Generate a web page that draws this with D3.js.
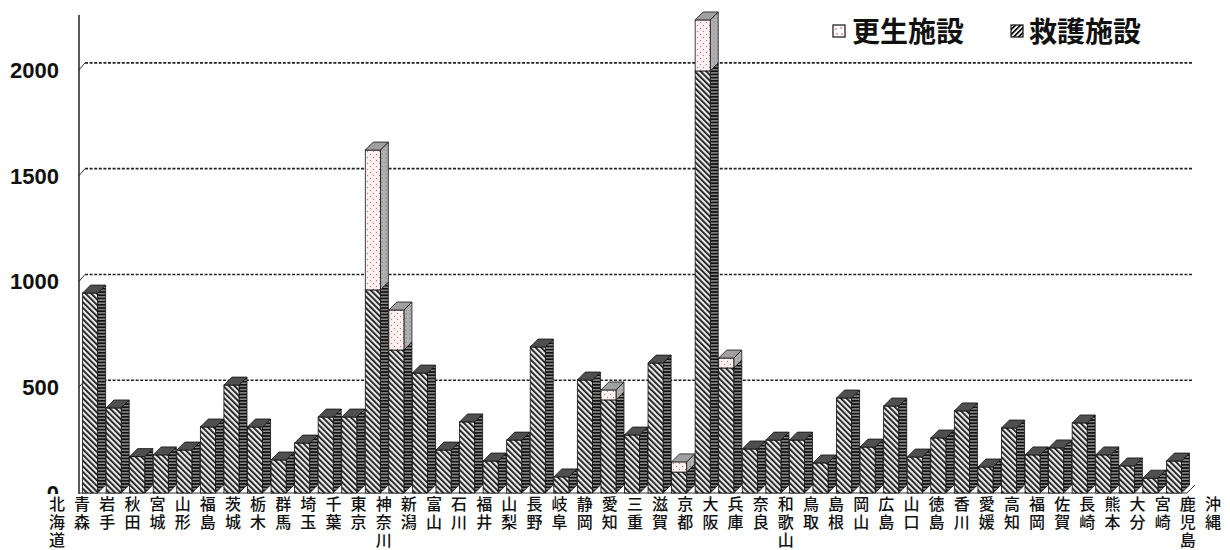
<!DOCTYPE html>
<html><head><meta charset="utf-8">
<script src="https://cdn.jsdelivr.net/npm/d3@7/dist/d3.min.js"></script>
<style>body{margin:0;background:#fff;}svg{display:block;}</style>
</head><body>
<svg id="chart" width="1230" height="550"></svg>
<script>
const prefectures = ["北海道","青森","岩手","秋田","宮城","山形","福島","茨城","栃木","群馬","埼玉","千葉","東京","神奈川","新潟","富山","石川","福井","山梨","長野","岐阜","静岡","愛知","三重","滋賀","京都","大阪","兵庫","奈良","和歌山","鳥取","島根","岡山","広島","山口","徳島","香川","愛媛","高知","福岡","佐賀","長崎","熊本","大分","宮崎","鹿児島","沖縄"];
// 救護施設 (bottom)
const kyugo = [945,402,172,180,203,312,510,312,156,236,359,359,960,676,567,203,336,151,250,690,76,534,440,274,614,99,1995,591,208,250,250,142,449,217,411,170,260,388,123,307,180,213,331,180,128,70,151];
// 更生施設 (top)
const kosei = [0,0,0,0,0,0,0,0,0,0,0,0,661,189,0,0,0,0,0,0,0,0,47,0,0,48,241,47,0,0,0,0,0,0,0,0,0,0,0,0,0,0,0,0,0,0,0];
const yTicks = [0,500,1000,1500,2000];
const seriesNames = ["更生施設","救護施設"];

const svg = d3.select("#chart");
const defs = svg.append("defs");
const pFront = defs.append("pattern").attr("id","kFront").attr("patternUnits","userSpaceOnUse")
  .attr("width",4).attr("height",4).attr("patternTransform","rotate(-45)");
pFront.append("rect").attr("width",4).attr("height",4).attr("fill","#eaeaea");
pFront.append("rect").attr("width",1.8).attr("height",4).attr("fill","#1a1a1a");
const pSide = defs.append("pattern").attr("id","kSide").attr("patternUnits","userSpaceOnUse")
  .attr("width",4).attr("height",3.2);
pSide.append("rect").attr("width",4).attr("height",3.2).attr("fill","#8a8a8a");
pSide.append("rect").attr("width",4).attr("height",1.7).attr("fill","#111");
const pLeg = defs.append("pattern").attr("id","kLeg").attr("patternUnits","userSpaceOnUse")
  .attr("width",3.5).attr("height",3.5).attr("patternTransform","rotate(45)");
pLeg.append("rect").attr("width",3.5).attr("height",3.5).attr("fill","#fff");
pLeg.append("rect").attr("width",1.8).attr("height",3.5).attr("fill","#111");
const dFront = defs.append("pattern").attr("id","dFront").attr("patternUnits","userSpaceOnUse")
  .attr("width",6).attr("height",6);
dFront.append("rect").attr("width",6).attr("height",6).attr("fill","#fff2f2");
dFront.append("circle").attr("cx",1.5).attr("cy",1.5).attr("r",0.7).attr("fill","#c77");
dFront.append("circle").attr("cx",4.5).attr("cy",4.5).attr("r",0.7).attr("fill","#c77");
const dSide = defs.append("pattern").attr("id","dSide").attr("patternUnits","userSpaceOnUse")
  .attr("width",4).attr("height",4);
dSide.append("rect").attr("width",4).attr("height",4).attr("fill","#b0b0b0");
dSide.append("circle").attr("cx",2).attr("cy",2).attr("r",0.6).attr("fill","#666");

const x = d3.scaleBand().domain(prefectures).range([79,1185]).paddingInner(0.36).paddingOuter(0.15);
const xl = d3.scalePoint().domain(prefectures).range([57,1213]);
const y = d3.scaleLinear().domain([0,2250]).range([493,17]);
const dx = 8, dy = -8;

const grid = svg.append("g");
yTicks.filter(t=>t>0).forEach(t=>{
  const yy = y(t);
  grid.append("line").attr("x1",79).attr("y1",yy).attr("x2",79+6).attr("y2",yy-7)
    .attr("stroke","#333").attr("stroke-width",1);
  grid.append("line").attr("x1",85).attr("y1",yy-7).attr("x2",1193).attr("y2",yy-7)
    .attr("stroke","#222").attr("stroke-width",1.6).attr("stroke-dasharray","3,1.6");
});

svg.append("line").attr("x1",79).attr("y1",15).attr("x2",79).attr("y2",494).attr("stroke","#222").attr("stroke-width",1.5);
svg.append("line").attr("x1",79).attr("y1",493).attr("x2",1187).attr("y2",493).attr("stroke","#333").attr("stroke-width",1);
svg.append("line").attr("x1",1187).attr("y1",493).attr("x2",1195).attr("y2",485).attr("stroke","#333").attr("stroke-width",1);

const bars = svg.append("g");
prefectures.forEach((p,i)=>{
  const x0 = x(p), w = x.bandwidth();
  const segs = [
    {lo:0, hi:kyugo[i], front:"url(#kFront)", side:"url(#kSide)", top:"#4f4f4f"},
    {lo:kyugo[i], hi:kyugo[i]+kosei[i], front:"url(#dFront)", side:"url(#dSide)", top:"#a0a0a0"}
  ].filter(s=>s.hi>s.lo);
  const g = bars.append("g");
  segs.forEach((s,j)=>{
    const yt = y(s.hi), yb = y(s.lo);
    g.append("polygon").attr("points",[[x0+w,yt],[x0+w+dx,yt+dy],[x0+w+dx,yb+dy],[x0+w,yb]].join(" "))
      .attr("fill",s.side).attr("stroke","#111").attr("stroke-width",0.8);
    g.append("rect").attr("x",x0).attr("y",yt).attr("width",w).attr("height",yb-yt)
      .attr("fill",s.front).attr("stroke","#111").attr("stroke-width",0.8);
    if(j===segs.length-1){
      g.append("polygon").attr("points",[[x0,yt],[x0+dx,yt+dy],[x0+w+dx,yt+dy],[x0+w,yt]].join(" "))
        .attr("fill",s.top).attr("stroke","#111").attr("stroke-width",0.8);
    }
  });
});

svg.append("g").selectAll("text").data(yTicks).join("text")
  .attr("x",59).attr("y",d=>y(d)).attr("dy","0.36em").attr("text-anchor","end")
  .attr("font-family","Liberation Sans, Arial, sans-serif").attr("font-weight","bold")
  .attr("font-size",22).attr("fill","#111").text(d=>d);

svg.append("rect").attr("x",0).attr("y",494).attr("width",1230).attr("height",56).attr("fill","#fff");

const xg = svg.append("g").attr("font-family","Noto Sans CJK JP, sans-serif").attr("font-size",16).attr("font-weight",500).attr("fill","#111");
prefectures.forEach(p=>{
  const t = xg.append("text").attr("x",xl(p)).attr("text-anchor","middle");
  [...p].forEach((c,k)=>{
    t.append("tspan").attr("x",xl(p)).attr("y",510+k*18).text(c);
  });
});

const leg = svg.append("g");
leg.append("rect").attr("x",833).attr("y",25).attr("width",12).attr("height",12).attr("fill","#fff").attr("stroke","#111").attr("stroke-width",1.2);
[[836,29],[841,28],[837,34],[842,34]].forEach(([a,b])=>leg.append("circle").attr("cx",a).attr("cy",b).attr("r",0.8).attr("fill","#c44"));
leg.append("rect").attr("x",1011).attr("y",25).attr("width",12).attr("height",12).attr("fill","url(#kLeg)").attr("stroke","#111").attr("stroke-width",1.2);
leg.append("text").attr("x",852).attr("y",32).attr("dy","0.36em").attr("font-family","Noto Sans CJK JP, sans-serif")
  .attr("font-weight","bold").attr("font-size",28).attr("fill","#111").text(seriesNames[0]);
leg.append("text").attr("x",1029).attr("y",32).attr("dy","0.36em").attr("font-family","Noto Sans CJK JP, sans-serif")
  .attr("font-weight","bold").attr("font-size",28).attr("fill","#111").text(seriesNames[1]);
</script>
</body></html>
